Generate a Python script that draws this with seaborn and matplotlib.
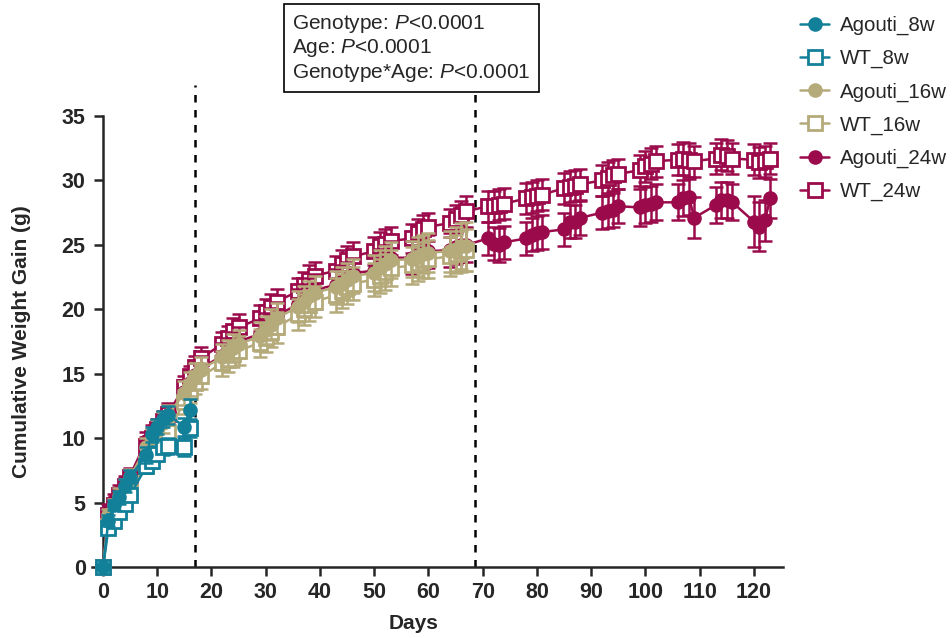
import matplotlib
matplotlib.use('Agg')
import matplotlib.pyplot as plt
from matplotlib.lines import Line2D
import seaborn as sns
import pandas as pd

sns.set_style('ticks')
plt.rcParams['font.family'] = ['Liberation Sans', 'DejaVu Sans']
plt.rcParams['mathtext.fontset'] = 'custom'
plt.rcParams['mathtext.it'] = 'Liberation Sans:italic'
plt.rcParams['mathtext.rm'] = 'Liberation Sans'

# measurement days
days_8w = [0, 1, 2, 3, 4, 5, 8, 9, 10, 11, 12, 15, 16]
days_16w = [0, 1, 2, 3, 4, 5, 8, 9, 10, 11, 12, 15, 16, 17, 18,
            22, 23, 24, 25, 29, 30, 31, 32, 36, 37, 38, 39, 43, 44, 45, 46,
            50, 51, 52, 53, 57, 58, 59, 60, 64, 65, 66, 67]
days_24w = days_16w + [71, 72, 73, 74, 78, 79, 80, 81, 85, 86, 87, 88,
                       92, 93, 94, 95, 99, 100, 101, 102, 106, 107, 108, 109,
                       113, 114, 115, 116, 120, 121, 122, 123]

# mean cumulative gain (g)
agouti_8w = [0, 3.6, 4.8, 5.4, 6.3, 7.0, 8.7, 10.3, 10.9, 11.5, 11.8, 10.9, 12.2]
wt_8w = [0, 3.0, 3.6, 4.3, 4.9, 5.6, 7.8, 8.2, 8.8, 9.3, 9.4, 9.3, 10.8]

agouti_16w = [0, 4.0, 4.8, 5.5, 6.2, 7.0, 9.3, 10.0, 10.6, 11.2, 11.8, 13.5, 14.2, 14.8, 15.3,
              16.3, 16.6, 17.0, 17.3, 17.9, 18.4, 18.8, 19.3, 20.2, 20.6, 21.0, 21.3,
              21.7, 22.0, 22.3, 22.6, 22.8, 23.2, 23.5, 23.8, 23.9, 24.1, 24.3, 24.4,
              24.5, 24.7, 24.9, 24.9]
wt_16w = [0, 3.2, 3.8, 4.5, 5.2, 5.9, 8.0, 8.7, 9.3, 9.9, 10.5, 12.8, 13.6, 14.3, 14.8,
          15.8, 16.1, 16.5, 16.8, 17.4, 17.8, 18.2, 18.6, 19.6, 20.0, 20.3, 20.6,
          21.1, 21.4, 21.7, 22.0, 22.3, 22.6, 22.9, 23.2, 23.4, 23.6, 23.8, 23.9,
          24.1, 24.3, 24.5, 24.6]

agouti_24w = [0, 4.4, 5.2, 5.8, 6.5, 7.1, 9.8, 10.3, 10.8, 11.3, 11.8, 13.6, 14.3, 14.9, 15.4,
              16.4, 16.8, 17.2, 17.5, 18.1, 18.6, 19.0, 19.5, 20.4, 20.8, 21.2, 21.5,
              21.9, 22.2, 22.5, 22.8, 23.0, 23.4, 23.7, 24.0, 24.0, 24.2, 24.4, 24.5,
              24.6, 24.8, 25.0, 25.0,
              25.5, 25.1, 25.0, 25.2, 25.5, 25.8, 25.9, 26.0, 26.2, 26.8, 26.8, 27.1,
              27.5, 27.6, 27.7, 28.0, 27.9, 28.1, 28.2, 28.3, 28.3, 28.6, 28.7, 27.1,
              28.1, 28.5, 28.5, 28.3, 26.8, 26.4, 26.9, 28.6]
wt_24w = [0, 4.0, 4.8, 5.6, 6.3, 7.0, 9.4, 10.0, 10.7, 11.3, 11.9, 14.0, 14.8, 15.5, 16.2,
          17.3, 17.8, 18.3, 18.6, 19.3, 19.8, 20.2, 20.6, 21.4, 21.9, 22.3, 22.6,
          23.0, 23.5, 23.8, 24.1, 24.5, 24.9, 25.1, 25.3, 25.5, 25.9, 26.2, 26.4,
          26.7, 27.0, 27.3, 27.6,
          28.0, 28.0, 28.1, 28.2, 28.6, 28.7, 28.8, 28.9, 29.4, 29.5, 29.6, 29.7,
          30.0, 30.2, 30.4, 30.5, 30.8, 31.1, 31.3, 31.5, 31.6, 31.7, 31.6, 31.5,
          31.7, 32.0, 31.9, 31.7, 31.6, 31.4, 31.5, 31.7]

# SEM
sem_agouti_8w = [0, 0.4, 0.4, 0.5, 0.5, 0.5, 0.6, 0.6, 0.6, 0.6, 0.7, 0.7, 0.8]
sem_wt_8w = [0, 0.4, 0.4, 0.4, 0.5, 0.5, 0.5, 0.5, 0.6, 0.6, 0.6, 0.7, 0.7]
sem_agouti_16w = [0, 0.5, 0.5, 0.6, 0.6, 0.6, 0.7, 0.7, 0.8, 0.8, 0.8, 0.9, 0.9, 1.0, 1.0,
                  1.0, 1.0, 1.1, 1.1, 1.1, 1.1, 1.2, 1.2, 1.2, 1.2, 1.2, 1.3,
                  1.3, 1.3, 1.3, 1.3, 1.4, 1.4, 1.4, 1.4, 1.4, 1.5, 1.5, 1.5,
                  1.6, 1.7, 1.8, 1.9]
sem_wt_16w = [0, 0.5, 0.5, 0.5, 0.6, 0.6, 0.7, 0.7, 0.7, 0.8, 0.8, 0.9, 0.9, 0.9, 1.0,
              1.0, 1.0, 1.0, 1.1, 1.1, 1.1, 1.1, 1.2, 1.2, 1.2, 1.2, 1.2,
              1.3, 1.3, 1.3, 1.3, 1.3, 1.3, 1.4, 1.4, 1.4, 1.4, 1.4, 1.5,
              1.5, 1.5, 1.6, 1.6]
sem_agouti_24w = [0, 0.5, 0.5, 0.6, 0.6, 0.6, 0.7, 0.7, 0.7, 0.8, 0.8, 0.9, 0.9, 0.9, 1.0,
                  1.0, 1.0, 1.0, 1.1, 1.1, 1.1, 1.1, 1.1, 1.2, 1.2, 1.2, 1.2,
                  1.2, 1.2, 1.2, 1.2, 1.2, 1.3, 1.3, 1.3, 1.3, 1.3, 1.3, 1.3,
                  1.3, 1.3, 1.3, 1.3,
                  1.3, 1.3, 1.3, 1.3, 1.3, 1.3, 1.3, 1.3, 1.3, 1.3, 1.3, 1.3,
                  1.3, 1.3, 1.3, 1.3, 1.4, 1.4, 1.4, 1.4, 1.4, 1.4, 1.4, 1.6,
                  1.4, 1.4, 1.4, 1.4, 2.0, 1.9, 1.6, 1.5]
sem_wt_24w = [0, 0.5, 0.5, 0.5, 0.6, 0.6, 0.7, 0.7, 0.7, 0.7, 0.8, 0.8, 0.8, 0.9, 0.9,
              0.9, 0.9, 1.0, 1.0, 1.0, 1.0, 1.0, 1.0, 1.0, 1.0, 1.1, 1.1,
              1.1, 1.1, 1.1, 1.1, 1.1, 1.1, 1.1, 1.1, 1.1, 1.1, 1.1, 1.1,
              1.1, 1.1, 1.1, 1.2,
              1.2, 1.2, 1.2, 1.2, 1.2, 1.2, 1.2, 1.2, 1.2, 1.2, 1.2, 1.2,
              1.2, 1.2, 1.2, 1.2, 1.2, 1.2, 1.2, 1.2, 1.2, 1.3, 1.3, 1.2,
              1.2, 1.2, 1.2, 1.2, 1.2, 1.2, 1.2, 1.2]

group_names = ['Agouti_8w', 'WT_8w', 'Agouti_16w', 'WT_16w', 'Agouti_24w', 'WT_24w']
colors = {'8w': '#13809a', '16w': '#b5aa7a', '24w': '#9b0a4b'}
vline_days = [17, 68.5]

series = {
    'Agouti_8w': (days_8w, agouti_8w, sem_agouti_8w),
    'WT_8w': (days_8w, wt_8w, sem_wt_8w),
    'Agouti_16w': (days_16w, agouti_16w, sem_agouti_16w),
    'WT_16w': (days_16w, wt_16w, sem_wt_16w),
    'Agouti_24w': (days_24w, agouti_24w, sem_agouti_24w),
    'WT_24w': (days_24w, wt_24w, sem_wt_24w),
}

rows = []
for name, (d, m, s) in series.items():
    for x, y, e in zip(d, m, s):
        rows.append({'group': name, 'Days': x, 'Gain': y, 'SEM': e})
df = pd.DataFrame(rows)


def style_of(name):
    c = colors[name.split('_')[1]]
    if name.startswith('Agouti'):
        return dict(color=c, marker='o', markersize=9, markerfacecolor=c,
                    markeredgecolor=c, markeredgewidth=1.5)
    return dict(color=c, marker='s', markersize=10, markerfacecolor='white',
                markeredgecolor=c, markeredgewidth=2.0)


fig = plt.figure(figsize=(9.52, 6.38), dpi=100)
ax = fig.add_axes([0.0968, 0.1113, 0.7254, 0.7069])

# draw oldest cohort first so younger ones sit on top
draw_order = ['WT_24w', 'Agouti_24w', 'WT_16w', 'Agouti_16w', 'WT_8w', 'Agouti_8w']
for i, name in enumerate(draw_order):
    sub = df[df.group == name]
    st = style_of(name)
    z = 2 + i
    ax.errorbar(sub.Days, sub.Gain, yerr=sub.SEM, fmt='none', ecolor=st['color'],
                elinewidth=1.8, capsize=5, capthick=1.8, zorder=z, clip_on=False)
    sns.lineplot(data=sub, x='Days', y='Gain', ax=ax, errorbar=None, legend=False,
                 linewidth=1.8, zorder=z + 0.5, clip_on=False, **st)

for xv in vline_days:
    ax.plot([xv, xv], [0, 37.4], color='black', ls=(0, (3, 3)), lw=1.8,
            clip_on=False, zorder=1)

ax.set_xlim(-2, 125.3)
ax.set_ylim(0, 35)
ax.set_xticks(range(0, 121, 10))
ax.set_yticks(range(0, 36, 5))
ax.spines['top'].set_visible(False)
ax.spines['right'].set_visible(False)
ax.spines['left'].set_position(('data', 0))
for sp in ['left', 'bottom']:
    ax.spines[sp].set_linewidth(1.8)
ax.tick_params(width=1.8, length=6.5, labelsize=15.5, pad=4)
ax.tick_params(axis='y', pad=6)
for lab in ax.get_xticklabels() + ax.get_yticklabels():
    lab.set_fontweight('bold')

ax.set_xlabel('Days', fontsize=15, fontweight='bold')
ax.xaxis.set_label_coords(0.465, -0.105)
ax.set_ylabel('Cumulative Weight Gain (g)', fontsize=15, fontweight='bold')
ax.yaxis.set_label_coords(-0.088, 0.5)

handles = []
for name in group_names:
    st = style_of(name)
    handles.append(Line2D([0], [0], linewidth=1.8, **st))
fig.legend(handles, group_names, loc='upper left', bbox_to_anchor=(0.8205, 1.004),
           frameon=False, fontsize=14.8, handlelength=1.45, labelspacing=0.68,
           handletextpad=0.5)

fig.text(0.3067, 0.98,
         'Genotype: $\\it{P}$<0.0001\nAge: $\\it{P}$<0.0001\nGenotype*Age: $\\it{P}$<0.0001',
         fontsize=15, va='top', ha='left', linespacing=1.15,
         bbox=dict(boxstyle='square,pad=0.4', fc='white', ec='black', lw=1.2))

fig.savefig('out.png', dpi=100)
